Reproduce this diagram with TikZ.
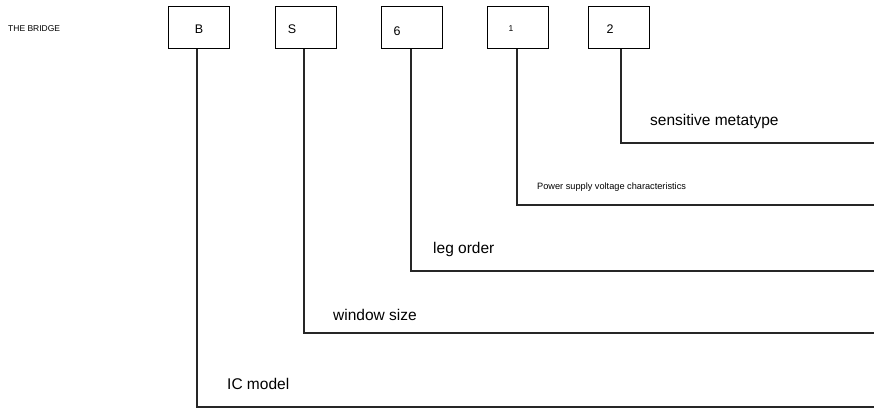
\documentclass[tikz,border=0pt]{standalone}
\usepackage{fontspec}
\setmainfont{Liberation Sans}
\begin{document}
\begin{tikzpicture}[x=1pt,y=-1pt,
  box/.style={draw=black,line width=1.4pt,minimum width=61pt,minimum height=42pt,inner sep=0pt,anchor=north west},
  lead/.style={draw=black!85,line width=1.4pt},
  lbl/.style={anchor=west,inner sep=0pt,font=\fontsize{15.5}{18}\selectfont},
  small/.style={anchor=west,inner sep=0pt,font=\fontsize{9.2}{11}\selectfont},
  tag/.style={inner sep=0pt,font=\fontsize{12.5}{14}\selectfont}]
\useasboundingbox (0,0) rectangle (874,409);
\fill[white] (0,0) rectangle (874,409);
\node[small,font=\fontsize{8.5}{10}\selectfont] (title) at (8,29) {THE BRIDGE};
% boxes
\node[box] (bB) at (168,6) {};
\node[box] (bS) at (275,6) {};
\node[box] (b6) at (381,6) {};
\node[box] (b1) at (487,6) {};
\node[box] (b2) at (588,6) {};
\node[tag] (tB) at (199,29) {B};
\node[tag] (tS) at (292,29) {S};
\node[tag] (t6) at (397,31) {6};
\node[tag,font=\fontsize{8.5}{10}\selectfont] (t1) at (511,29) {1};
\node[tag] (t2) at (610,29) {2};
% end points at right edge
\coordinate (e2) at (874,143);
\coordinate (e1) at (874,205);
\coordinate (e6) at (874,271);
\coordinate (eS) at (874,333);
\coordinate (eB) at (874,407);
\draw[lead] (b2.south -| 621,0) |- (e2);
\draw[lead] (b1.south -| 517,0) |- (e1);
\draw[lead] (b6.south -| 411,0) |- (e6);
\draw[lead] (bS.south -| 304,0) |- (eS);
\draw[lead] (bB.south -| 197,0) |- (eB);
% labels
\node[lbl] (l2) at (650,121) {sensitive metatype};
\node[small] (l1) at (537,187) {Power supply voltage characteristics};
\node[lbl] (l6) at (433,249) {leg order};
\node[lbl] (lS) at (333,315) {window size};
\node[lbl] (lB) at (227,384) {IC model};
\end{tikzpicture}
\end{document}
